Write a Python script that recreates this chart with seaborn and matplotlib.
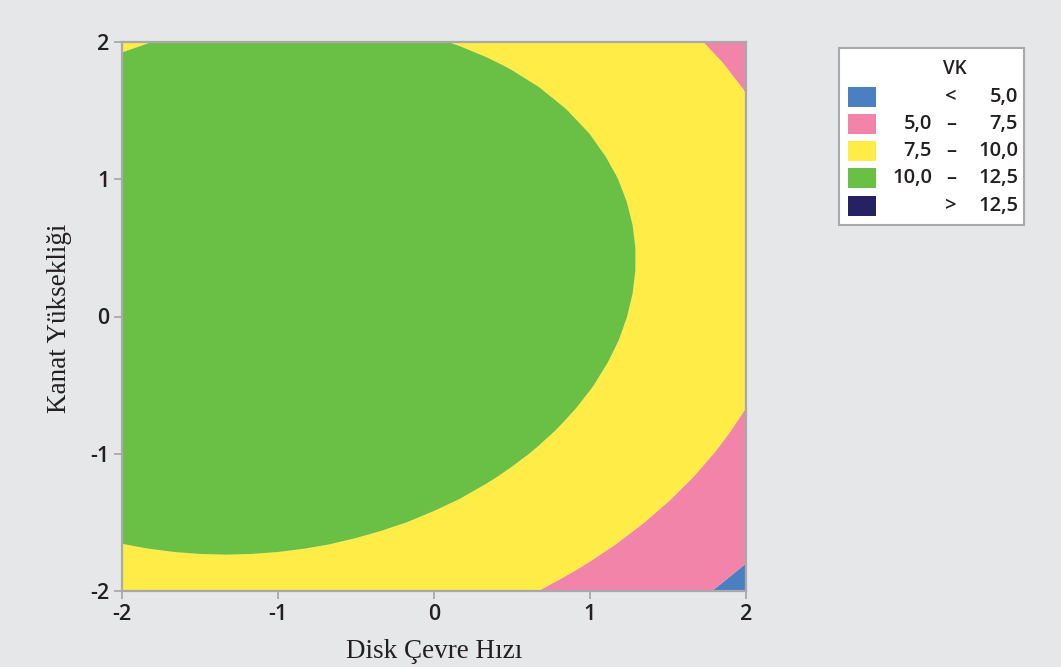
import numpy as np
import matplotlib
matplotlib.use("Agg")
import matplotlib.pyplot as plt
from matplotlib.patches import Rectangle
import seaborn as sns

# Fitted quadratic response surface for VK
# VK = b0 + b1*x + b2*y + b11*x^2 + b22*y^2 + b12*x*y
term_names = ["const", "x", "y", "x2", "y2", "xy"]
coefficients = [11.86, -0.964, 0.396, -0.433, -0.645, 0.111]

x_range = [-2, 2]
y_range = [-2, 2]
tick_values = [-2, -1, 0, 1, 2]
tick_labels = ["-2", "-1", "0", "1", "2"]

level_bounds = [5.0, 7.5, 10.0, 12.5]
band_colors = ["#4A7FC2", "#F384A9", "#FFEC47", "#6ABF45", "#252163"]
legend_left = ["", "5,0", "7,5", "10,0", ""]
legend_mid = ["<", "–", "–", "–", ">"]
legend_right = ["5,0", "7,5", "10,0", "12,5", "12,5"]

x_label = "Disk Çevre Hızı"
y_label = "Kanat Yüksekliği"
legend_title = "VK"

sns.set_theme(style="white")
plt.rcParams["font.family"] = ["Open Sans", "DejaVu Sans"]

BG = "#E6E7E9"
TXT = "#231F20"
SPINE = "#A7A9AC"

fig = plt.figure(figsize=(10.61, 6.67), dpi=100, facecolor=BG)
W, H = 1061, 667
ax = fig.add_axes([122 / W, 1 - 591 / H, (746 - 122) / W, (591 - 42) / H])
ax.set_facecolor(BG)

gx = np.linspace(x_range[0], x_range[1], 25)
gy = np.linspace(y_range[0], y_range[1], 25)
X, Y = np.meshgrid(gx, gy)
b0, b1, b2, b11, b22, b12 = coefficients
Z = b0 + b1 * X + b2 * Y + b11 * X ** 2 + b22 * Y ** 2 + b12 * X * Y

levels = [min(Z.min(), level_bounds[0]) - 1] + level_bounds + [max(Z.max(), level_bounds[-1]) + 1]
ax.contourf(X, Y, Z, levels=levels, colors=band_colors, antialiased=True)

ax.set_xlim(x_range)
ax.set_ylim(y_range)
ax.set_xticks(tick_values)
ax.set_xticklabels(tick_labels)
ax.set_yticks(tick_values)
ax.set_yticklabels(tick_labels)
ax.tick_params(axis="both", direction="out", length=6, width=1.3, color=SPINE,
               labelsize=15.5, labelcolor=TXT, pad=3, bottom=True, left=True)
for lab in ax.get_xticklabels() + ax.get_yticklabels():
    lab.set_fontweight("semibold")
for s in ax.spines.values():
    s.set_visible(True)
    s.set_color(SPINE)
    s.set_linewidth(1.6)

serif = ["Liberation Serif", "DejaVu Serif"]
fig.text(434 / W, 1 - 652 / H, x_label, ha="center", va="center",
         fontsize=19.5, family=serif, color=TXT)
fig.text(60 / W, 1 - 318 / H, y_label, ha="center", va="center", rotation=90,
         fontsize=19.5, family=serif, color=TXT)

# Legend panel
box = Rectangle((839 / W, 1 - 225 / H), (1024 - 839) / W, (225 - 48) / H,
                transform=fig.transFigure, facecolor="white", edgecolor=SPINE, lw=1.5)
fig.add_artist(box)
fig.text(955 / W, 1 - 69 / H, legend_title, ha="center", va="center",
         fontsize=13.5, fontweight="semibold", color=TXT)
row_y = [97, 124, 151, 178, 206]
for i, c in enumerate(band_colors):
    yc = row_y[i]
    fig.add_artist(Rectangle((848 / W, 1 - (yc + 10) / H), 28 / W, 20 / H,
                             transform=fig.transFigure, facecolor=c, edgecolor="none"))
    if legend_left[i]:
        fig.text(932 / W, 1 - yc / H, legend_left[i], ha="right", va="center",
                 fontsize=14.5, fontweight="semibold", color=TXT)
    fig.text(951 / W, 1 - yc / H, legend_mid[i], ha="center", va="center",
             fontsize=14.5, fontweight="semibold", color=TXT)
    fig.text(1018 / W, 1 - yc / H, legend_right[i], ha="right", va="center",
             fontsize=14.5, fontweight="semibold", color=TXT)

fig.savefig("out.png", dpi=100, facecolor=BG)
